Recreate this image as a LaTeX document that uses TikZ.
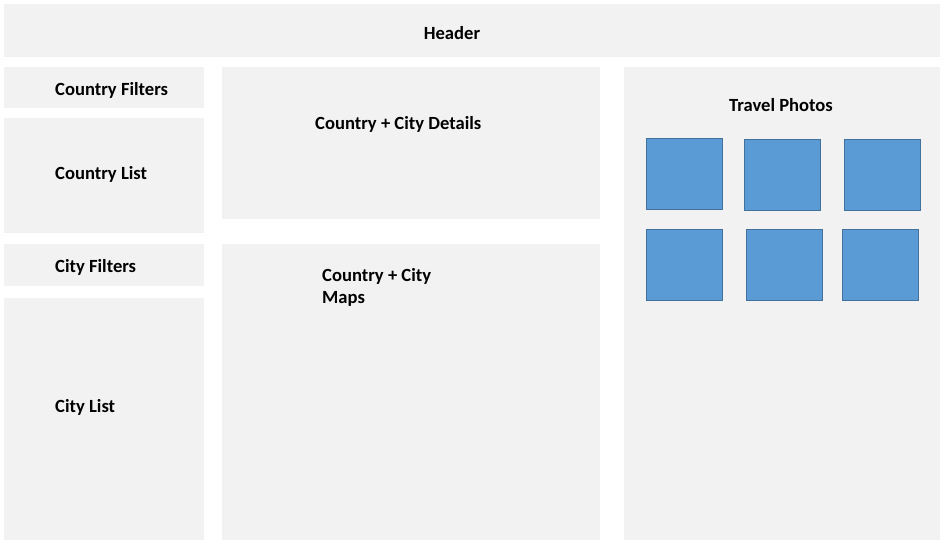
\documentclass[tikz,border=0pt]{standalone}
\usepackage{fontspec}
\setmainfont{Carlito}
\usepackage{tikz}
\usetikzlibrary{positioning, calc}

\definecolor{panelgray}{HTML}{F2F2F2}
\definecolor{photoblue}{HTML}{5B9BD5}
\definecolor{photoedge}{HTML}{41719C}

\begin{document}
\begin{tikzpicture}[
  x=1pt, y=-1pt,
  panel/.style={rectangle, fill=panelgray, draw=none, inner sep=0pt, outer sep=0pt, anchor=north west},
  photo/.style={rectangle, fill=photoblue, draw=photoedge, line width=1pt, inner sep=0pt, anchor=north west, minimum width=76pt, minimum height=71pt},
  lbl/.style={font=\fontsize{18.6}{22}\selectfont\bfseries, inner sep=0pt, align=left}
]
  \useasboundingbox (0,0) rectangle (948,545);

  % panels
  \node[panel, minimum width=936pt, minimum height=53pt] (header) at (4,4) {};
  \node[panel, minimum width=200pt, minimum height=41pt] (cfilters) at (4,67) {};
  \node[panel, minimum width=200pt, minimum height=115pt] (clist) at (4,118) {};
  \node[panel, minimum width=200pt, minimum height=42pt] (cityfilters) at (4,244) {};
  \node[panel, minimum width=200pt, minimum height=242pt] (citylist) at (4,298) {};
  \node[panel, minimum width=378pt, minimum height=152pt] (details) at (222,67) {};
  \node[panel, minimum width=378pt, minimum height=296pt] (maps) at (222,244) {};
  \node[panel, minimum width=316pt, minimum height=473pt] (photos) at (624,67) {};

  % labels
  \node[lbl] (headertxt) at (452,33) {Header};
  \node[lbl, anchor=west] (cfilterstxt) at (55,90) {Country Filters};
  \node[lbl, anchor=west] (clisttxt) at (55,174) {Country List};
  \node[lbl, anchor=west] (cityfilterstxt) at (55,267) {City Filters};
  \node[lbl, anchor=west] (citylisttxt) at (55,407) {City List};
  \node[lbl, anchor=west] (detailstxt) at (315,124) {Country + City Details};
  \node[lbl, anchor=west] (mapstxt) at (322,287) {Country + City\\Maps};
  \node[lbl] (photostxt) at (781,105) {Travel Photos};

  % photo tiles
  \node[photo] (p1) at (646,138) {};
  \node[photo] (p2) at (744,139) {};
  \node[photo] (p3) at (844,139) {};
  \node[photo] (p4) at (646,229) {};
  \node[photo] (p5) at (746,229) {};
  \node[photo] (p6) at (842,229) {};
\end{tikzpicture}
\end{document}
